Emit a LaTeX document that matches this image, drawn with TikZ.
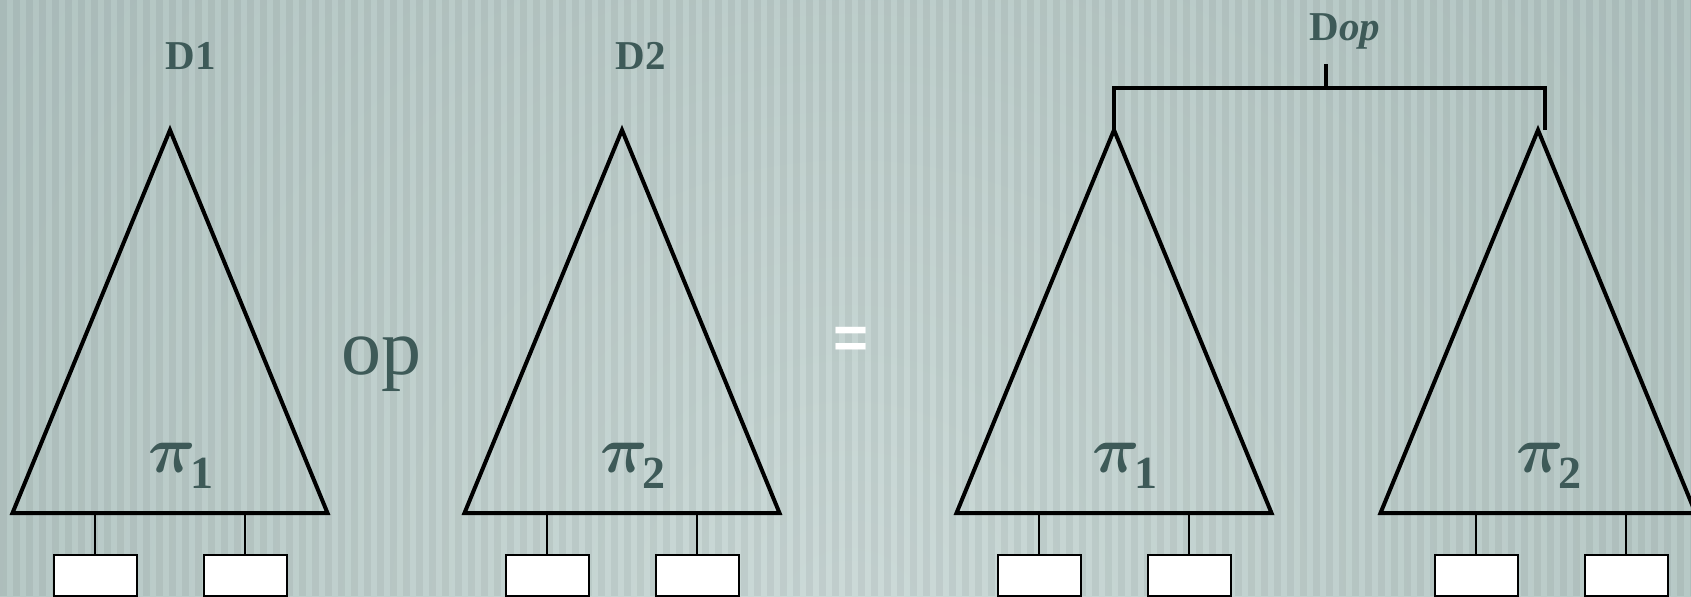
\RequirePackage{fix-cm}
\documentclass[tikz,border=0pt]{standalone}
\usepackage{amsmath}
\usepackage{fontspec}
\setmainfont{Liberation Serif}
\newfontfamily\eqfont{Liberation Sans}
\usetikzlibrary{positioning}
\definecolor{slate}{HTML}{3E5A58}
\definecolor{bgdark}{HTML}{A4B9B6}
\definecolor{bglight}{HTML}{CCDAD8}
\begin{document}
\begin{tikzpicture}[x=.5pt,y=-.5pt,
  edge/.style={line width=2pt},
  stem/.style={line width=1pt},
  leaf/.style={draw,fill=white,line width=1pt,minimum width=41.5pt,minimum height=20.5pt,inner sep=0pt},
  lbl/.style={text=slate,font=\fontsize{20.5}{24}\selectfont\bfseries,anchor=base}]
\useasboundingbox (0,0) rectangle (1691,596);
\begin{scope}\clip (0,0) rectangle (1691,596);
\shade[inner color=bglight,outer color=bgdark] (850,620) circle (1600);
\foreach \x in {0,13,...,1690}{\fill[black,opacity=.05] (\x,0) rectangle ++(6.5,596);}
\end{scope}
% the four trees
\foreach \t/\ax/\i/\s in {a/170/1/0,b/622/2/0,c/1114/1/0,d/1538/2/13}{
  \coordinate (\t-top) at (\ax,130);
  \coordinate (\t-bl) at (\ax-75+\s,513); \coordinate (\t-br) at (\ax+75+\s,513);
  \draw[edge] (\t-top) -- (\ax-157.5,513) -- (\ax+157.5,513) -- cycle;
  \node[text=slate,anchor=base,font=\fontsize{33}{36}\selectfont\bfseries] (\t-pi) at (\ax+11,472) {$\boldsymbol{\pi}$\kern-2.5pt\raisebox{-8pt}{\fontsize{23}{25}\selectfont\i}};
  \node[leaf,anchor=north] (\t-l) at (\ax-75+\s,554) {};
  \node[leaf,anchor=north] (\t-r) at (\ax+75+\s,554) {};
  \draw[stem] (\t-bl) -- (\t-l); \draw[stem] (\t-br) -- (\t-r);
}
\node[lbl] (d1) at (191,69.5) {D1};
\node[lbl] (d2) at (641,69.5) {D2};
\node[lbl] (dop) at (1345,40) {D\textit{op}};
\node[text=slate,font=\fontsize{40}{44}\selectfont,anchor=base] (op) at (381,374) {op};
\node[text=white,font=\fontsize{30}{32}\selectfont\eqfont\bfseries] (eq) at (851,343) {=};
% bracket joining the two trees
\coordinate (brl) at (1114,88); \coordinate (brr) at (1545,88); \coordinate (brm) at (1326,88);
\coordinate (hook) at (1545,130); \coordinate (tick) at (1326,64);
\draw[edge] (c-top) -- (brl) -- (brr) -- (hook);
\draw[edge] (brm) -- (tick);
\end{tikzpicture}
\end{document}
